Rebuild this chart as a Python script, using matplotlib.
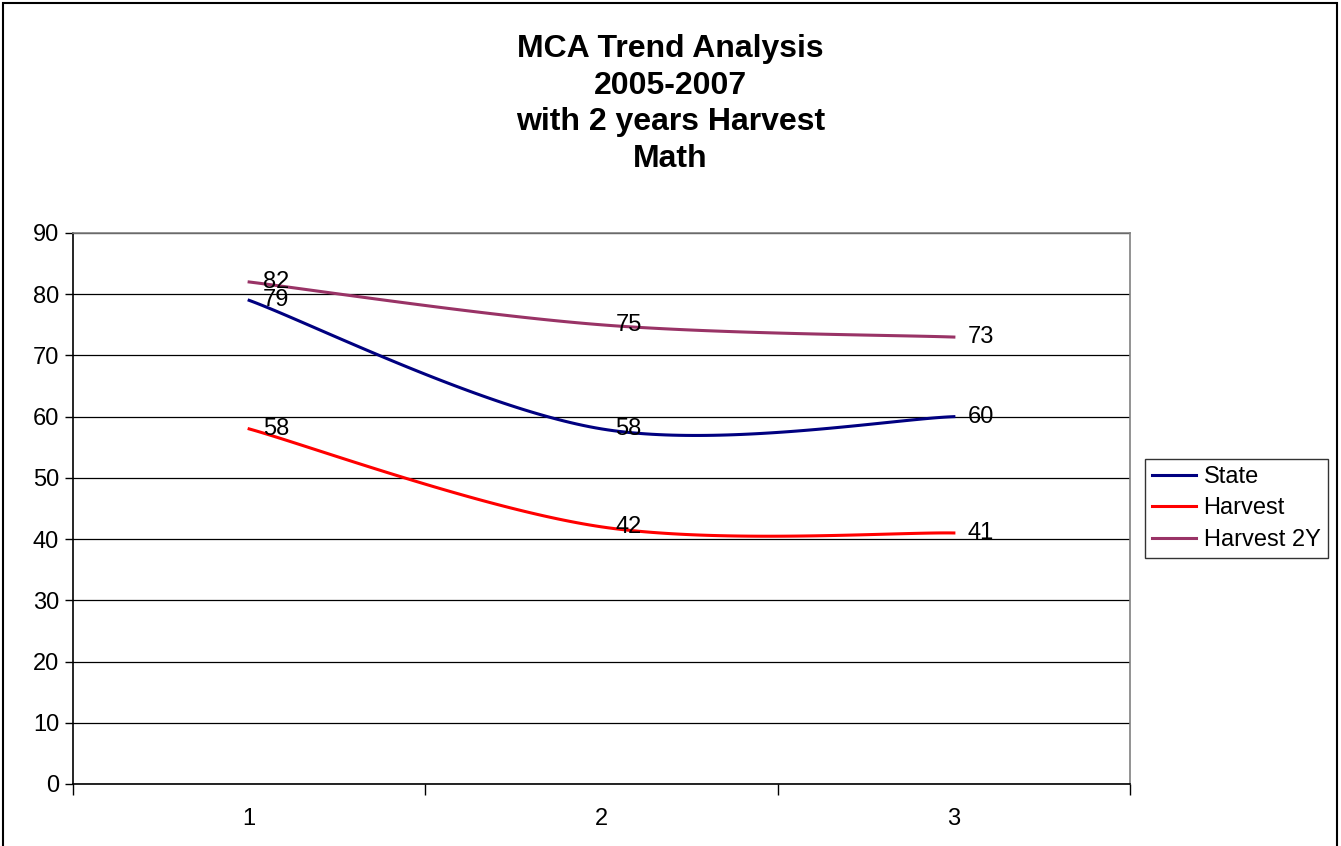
import matplotlib.pyplot as plt
import numpy as np
from matplotlib.patches import Rectangle

plt.rcParams['font.family'] = ['Liberation Sans', 'DejaVu Sans']

# MCA math trend data
years = [1, 2, 3]
state = [79, 58, 60]
harvest = [58, 42, 41]
harvest_2y = [82, 75, 73]
series_names = ["State", "Harvest", "Harvest 2Y"]
colors = ["#000080", "#FF0000", "#993366"]
y_ticks = [0, 10, 20, 30, 40, 50, 60, 70, 80, 90]


def smooth(xs, ys, n=60):
    # Excel-style smoothed line: cubic Bezier with Catmull-Rom tangents
    p = np.column_stack([xs, ys]).astype(float)
    out = []
    for i in range(len(p) - 1):
        p_prev = p[max(i - 1, 0)]
        p_next = p[min(i + 2, len(p) - 1)]
        c1 = p[i] + (p[i + 1] - p_prev) / 6
        c2 = p[i + 1] - (p_next - p[i]) / 6
        t = np.linspace(0, 1, n)[:, None]
        seg = ((1 - t) ** 3) * p[i] + 3 * ((1 - t) ** 2) * t * c1 \
            + 3 * (1 - t) * t ** 2 * c2 + t ** 3 * p[i + 1]
        out.append(seg)
    curve = np.vstack(out)
    return curve[:, 0], curve[:, 1]


fig = plt.figure(figsize=(13.41, 8.46), dpi=100)
ax = fig.add_axes([0.0544, 0.0733, 0.7883, 0.6513])

lines = []
for vals, name, c in zip([state, harvest, harvest_2y], series_names, colors):
    sx, sy = smooth(years, vals)
    ln, = ax.plot(sx, sy, color=c, linewidth=2.2, label=name, zorder=3)
    lines.append(ln)
    for x, v in zip(years, vals):
        ax.annotate(str(v), (x, v), xytext=(10, 0), textcoords="offset points",
                    ha="left", va="center", fontsize=17, zorder=4)

ax.set_xlim(0.5, 3.5)
ax.set_ylim(0, 90)
ax.set_yticks(y_ticks)
ax.set_xticks([0.5, 1.5, 2.5, 3.5])
ax.set_xticklabels([])
ax.set_xticks(years, minor=True)
ax.set_xticklabels([str(y) for y in years], minor=True)
ax.tick_params(axis="x", which="major", length=8, width=1, direction="out")
ax.tick_params(axis="x", which="minor", length=0, labelsize=17, pad=17)
ax.tick_params(axis="y", length=6, width=1, direction="out", labelsize=17, pad=4)
ax.grid(axis="y", color="black", linewidth=0.9)
ax.set_axisbelow(True)
for s in ["left", "bottom"]:
    ax.spines[s].set_color("black")
    ax.spines[s].set_linewidth(1.2)
for s in ["top", "right"]:
    ax.spines[s].set_color("#808080")
    ax.spines[s].set_linewidth(1.2)

fig.text(0.5, 0.960, "MCA Trend Analysis\n2005-2007\nwith 2 years Harvest\nMath",
         ha="center", va="top", fontsize=23, fontweight="bold", linespacing=1.29)

leg = fig.legend(handles=lines, loc="center left", bbox_to_anchor=(0.8535, 0.399),
                 fontsize=17, frameon=True, fancybox=False, edgecolor="black",
                 handlelength=1.9, handletextpad=0.3, borderpad=0.3,
                 labelspacing=0.4, borderaxespad=0)
leg.get_frame().set_linewidth(1.0)

fig.patches.append(Rectangle((0.002, -0.01), 0.995, 1.007, transform=fig.transFigure,
                             fill=False, edgecolor="black", linewidth=1.5))

plt.savefig("out.png", dpi=100)
